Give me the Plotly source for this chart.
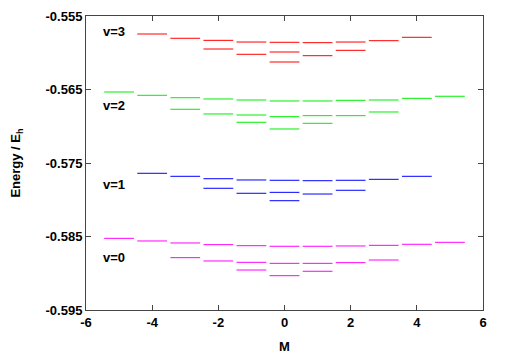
import plotly.graph_objects as go

# Energy levels (Hartree) for each vibrational state v, listed per M
M_v3 = [-4, -3, -2, -2, -1, -1, 0, 0, 0, 1, 1, 2, 2, 3, 4]
E_v3 = [-0.55745, -0.55803, -0.55831, -0.55949, -0.55854, -0.56021,
        -0.55858, -0.55990, -0.56126, -0.55863, -0.56040, -0.55854, -0.55967,
        -0.55836, -0.55790]

M_v2 = [-5, -4, -3, -3, -2, -2, -1, -1, -1, 0, 0, 0, 1, 1, 1, 2, 2, 3, 3, 4, 5]
E_v2 = [-0.56534, -0.56579, -0.56612, -0.56769, -0.56629, -0.56833,
        -0.56643, -0.56847, -0.56946, -0.56656, -0.56870, -0.57037,
        -0.56656, -0.56856, -0.56960, -0.56647, -0.56856, -0.56643, -0.56806,
        -0.56620, -0.56592]

M_v1 = [-4, -3, -2, -2, -1, -1, 0, 0, 0, 1, 1, 2, 2, 3, 4]
E_v1 = [-0.57640, -0.57681, -0.57714, -0.57844, -0.57731, -0.57912,
        -0.57735, -0.57899, -0.58013, -0.57741, -0.57922, -0.57735, -0.57871,
        -0.57722, -0.57681]

M_v0 = [-5, -4, -3, -3, -2, -2, -1, -1, -1, 0, 0, 0, 1, 1, 1, 2, 2, 3, 3, 4, 5]
E_v0 = [-0.58525, -0.58561, -0.58588, -0.58788, -0.58611, -0.58833,
        -0.58625, -0.58851, -0.58956, -0.58633, -0.58865, -0.59033,
        -0.58633, -0.58865, -0.58973, -0.58629, -0.58856, -0.58620, -0.58820,
        -0.58606, -0.58579]

series = [
    ("v=3", M_v3, E_v3, "#ff0000"),
    ("v=2", M_v2, E_v2, "#00ee00"),
    ("v=1", M_v1, E_v1, "#0000ff"),
    ("v=0", M_v0, E_v0, "#ff00ff"),
]
label_y = {"v=3": -0.5571, "v=2": -0.5672, "v=1": -0.5779, "v=0": -0.5878}

HALF = 0.45
FONT = "Liberation Sans, Arial, sans-serif"

fig = go.Figure()
for name, ms, es, col in series:
    xs, ys = [], []
    for m, e in zip(ms, es):
        xs += [m - HALF, m + HALF, None]
        ys += [e, e, None]
    fig.add_trace(go.Scatter(x=xs, y=ys, mode="lines", name=name,
                             line=dict(color=col, width=1), showlegend=False))
    fig.add_annotation(x=-5.55, y=label_y[name], text="<b>%s</b>" % name,
                       showarrow=False, xanchor="left", yanchor="middle",
                       font=dict(family=FONT, size=13, color="black"))

axis_common = dict(showline=True, linecolor="#444444", linewidth=1, mirror="ticks",
                   ticks="inside", ticklen=5, tickcolor="#444444",
                   showgrid=False, zeroline=False, automargin=False,
                   tickfont=dict(family=FONT, size=13, color="black"))

fig.update_xaxes(range=[-6, 6], tickvals=[-6, -4, -2, 0, 2, 4, 6],
                 ticktext=["<b>%d</b>" % v for v in [-6, -4, -2, 0, 2, 4, 6]],
                 title=dict(text="<b>M</b>", font=dict(family=FONT, size=13, color="black"),
                            standoff=13),
                 **axis_common)
yt = [-0.595, -0.585, -0.575, -0.565, -0.555]
fig.update_yaxes(range=[-0.595, -0.555], tickvals=yt,
                 ticktext=["<b>%.3f</b>" % v for v in yt],
                 title=dict(text="<b>Energy / E<sub>h</sub></b>",
                            font=dict(family=FONT, size=13, color="black"), standoff=22),
                 **axis_common)

fig.update_layout(width=509, height=356, plot_bgcolor="white", paper_bgcolor="white",
                  margin=dict(l=78, r=34, t=8, b=54))

fig.write_html("out.html")
